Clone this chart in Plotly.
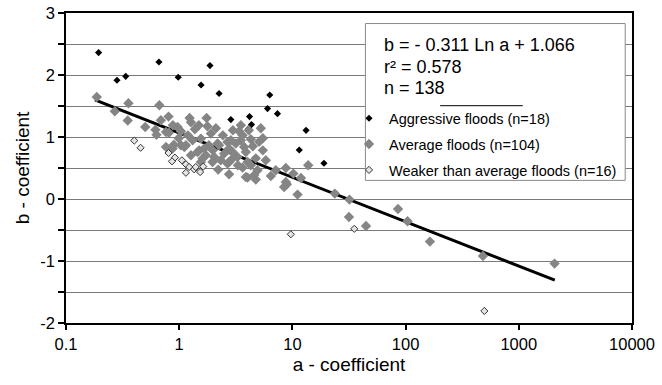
import numpy as np
import plotly.graph_objects as go

# ---------------- data ----------------
agg_a = [0.194, 0.282, 0.337, 0.662, 0.98, 1.87, 1.56, 2.25, 6.31, 6.03,
         7.38, 2.86, 4.18, 4.35, 4.10, 13.2, 11.5, 19.0]
agg_b = [2.361, 1.915, 1.979, 2.210, 1.963, 2.152, 1.839, 1.702, 1.677, 1.458,
         1.377, 1.281, 1.329, 1.200, 1.135, 1.108, 0.790, 0.576]

avg_a = [0.187, 0.270, 0.356, 0.351, 0.668, 0.501, 0.617, 0.630, 0.805, 1.236,
         1.746, 0.968, 1.376, 1.774, 1.035, 0.811, 0.764, 0.897, 1.111, 1.313,
         1.555, 1.905, 1.453, 1.663, 2.183, 2.496, 2.037, 1.610, 3.388, 3.506,
         3.162, 4.295, 5.08, 3.88, 3.27, 4.02, 4.75, 2.76, 2.21, 2.76,
         3.63, 4.02, 4.75, 4.92, 6.45, 8.75, 8.45, 8.93, 10.2, 11.9,
         11.1, 13.8, 23.7, 31.9, 31.6, 44.7, 85.7, 104, 164, 482,
         2070, 1.035, 1.146, 1.502, 1.72, 1.97, 2.25, 2.67, 2.67, 2.96,
         1.555, 3.63, 3.75, 2.96, 3.88, 4.59, 8.75, 0.875, 0.764, 2.76,
         1.194, 2.11, 2.43, 1.83, 1.27, 2.98, 4.12, 5.48, 3.30, 2.33,
         0.99, 1.49, 1.98, 4.47, 5.82, 7.13, 2.86, 0.689, 0.879, 4.295,
         3.506, 5.48, 5.26, 1.27]
avg_b = [1.645, 1.415, 1.544, 1.265, 1.511, 1.161, 1.116, 1.035, 1.329, 1.306,
         1.306, 1.161, 1.124, 1.173, 1.092, 1.068, 0.839, 0.877, 0.839, 0.947,
         0.974, 1.055, 0.758, 0.813, 0.894, 0.732, 0.677, 0.652, 1.092, 0.947,
         0.894, 0.963, 0.923, 0.758, 0.677, 0.597, 0.656, 0.597, 0.474, 0.398,
         0.506, 0.345, 0.313, 0.463, 0.371, 0.500, 0.194, 0.237, 0.410, 0.339,
         0.071, 0.544, 0.087, -0.010, -0.290, -0.435, -0.161, -0.360, -0.687, -0.919,
         -1.042, 0.866, 0.866, 0.785, 0.705, 0.597, 0.866, 0.919, 0.571, 0.652,
         0.597, 1.027, 0.839, 0.758, 0.355, 0.382, 0.274, 0.813, 1.081, 0.813,
         1.027, 1.140, 1.027, 0.866, 0.705, 1.108, 1.108, 0.785, 0.544, 0.624,
         0.979, 1.189, 0.785, 0.850, 0.624, 0.463, 0.947, 1.269, 1.189, 0.544,
         1.189, 0.979, 1.140, 1.237]

weak_a = [0.401, 0.456, 0.805, 0.916, 0.863, 1.146, 1.225, 1.356, 1.53, 1.63,
          1.146, 9.68, 35.2, 496, 1.057, 1.40]
weak_b = [0.942, 0.826, 0.742, 0.668, 0.608, 0.560, 0.516, 0.479, 0.435, 0.523,
          0.423, -0.569, -0.481, -1.806, 0.624, 0.516]

# trendline b = -0.311 Ln a + 1.066
slope, intercept = -0.311, 1.066
trend_a = np.array([0.18, 2080.0])
trend_b = slope * np.log(trend_a) + intercept

x_tickvals = [0.1, 1, 10, 100, 1000, 10000]
x_ticktext = ["0.1", "1", "10", "100", "1000", "10000"]
y_tickvals = [-2, -1.5, -1, -0.5, 0, 0.5, 1, 1.5, 2, 2.5, 3]
y_ticktext = ["-2", "", "-1", "", "0", "", "1", "", "2", "", "3"]

eq_lines = ["b = - 0.311 Ln a + 1.066", "r² = 0.578", "n = 138"]

FONT = "Liberation Sans, Arial, sans-serif"

fig = go.Figure()
fig.add_trace(go.Scatter(x=trend_a, y=trend_b, mode="lines",
                         line=dict(color="black", width=3), showlegend=False,
                         hoverinfo="skip"))
fig.add_trace(go.Scatter(x=agg_a, y=agg_b, mode="markers", name="Aggressive floods (n=18)",
                         legendgroup="g1",
                         marker=dict(symbol="diamond", size=5.5, color="black")))
fig.add_trace(go.Scatter(x=avg_a, y=avg_b, mode="markers", name="Average floods (n=104)",
                         legendgroup="g2",
                         marker=dict(symbol="diamond", size=8, color="#858585")))
fig.add_trace(go.Scatter(x=weak_a, y=weak_b, mode="markers",
                         name="Weaker than average floods (n=16)", legendgroup="g3",
                         marker=dict(symbol="diamond", size=5.5, color="#e3e3e3",
                                     line=dict(color="#333333", width=1))))

# legend box
fig.add_shape(type="rect", xref="paper", yref="paper", x0=0.529, x1=0.988,
              y0=0.46, y1=0.966, fillcolor="white",
              line=dict(color="#8a8a8a", width=1), layer="above")
fig.add_shape(type="line", xref="paper", yref="paper", x0=0.661, x1=0.807,
              y0=0.701, y1=0.701, line=dict(color="black", width=1), layer="above")
for txt, yy in zip(eq_lines, [0.896, 0.826, 0.759]):
    fig.add_annotation(text=txt, xref="paper", yref="paper", x=0.558, y=yy,
                       xanchor="left", yanchor="middle", showarrow=False,
                       font=dict(size=18, color="black", family=FONT))

fig.update_layout(
    width=662, height=385,
    margin=dict(l=66, r=30, t=13, b=62, autoexpand=False),
    plot_bgcolor="white", paper_bgcolor="white",
    font=dict(family=FONT, color="black"),
    legend=dict(x=0.500, y=0.712, xanchor="left", yanchor="top",
                bgcolor="rgba(0,0,0,0)", font=dict(size=14.5, family=FONT),
                itemwidth=30, tracegroupgap=4, traceorder="grouped"),
    xaxis=dict(type="log", range=[-1, 4], tickvals=x_tickvals, ticktext=x_ticktext,
               ticks="outside", ticklen=5, tickcolor="black", tickwidth=1.5,
               showline=True, linecolor="black", linewidth=1.5, mirror=True,
               showgrid=False, zeroline=False, automargin=False,
               tickfont=dict(size=16.5, family=FONT),
               title=dict(text="a - coefficient", font=dict(size=19, family=FONT),
                          standoff=6)),
    yaxis=dict(range=[-2, 3], tickvals=y_tickvals, ticktext=y_ticktext,
               ticks="outside", ticklen=6, tickcolor="black", tickwidth=1.5,
               showline=True, linecolor="black", linewidth=1.5, mirror=True,
               showgrid=True, gridcolor="#7a7a7a", gridwidth=1.3, zeroline=False,
               automargin=False,
               tickfont=dict(size=16.5, family=FONT),
               title=dict(text="b - coefficient", font=dict(size=19, family=FONT),
                          standoff=6)),
)

fig.write_html("out.html")
